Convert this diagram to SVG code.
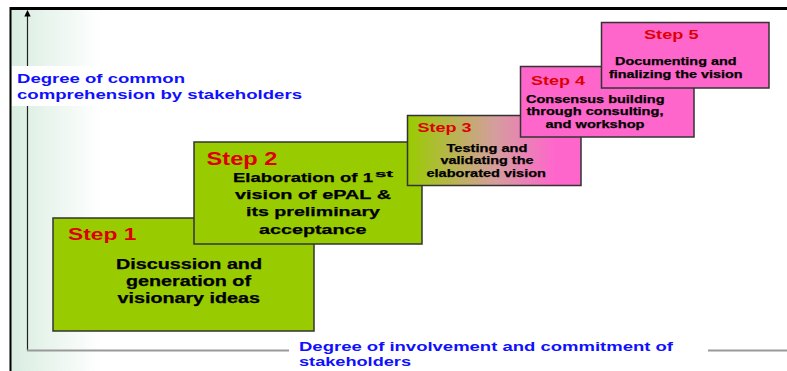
<svg xmlns="http://www.w3.org/2000/svg" width="787" height="371" viewBox="0 0 787 371">
<defs>
<linearGradient id="bg" x1="0" y1="0" x2="1" y2="0">
<stop offset="0" stop-color="#d9ede0"/>
<stop offset="1" stop-color="#ffffff"/>
</linearGradient>
<linearGradient id="g3" x1="0" y1="0" x2="1" y2="0">
<stop offset="0" stop-color="#99cc00"/>
<stop offset="0.5" stop-color="#d49e9c"/>
<stop offset="0.85" stop-color="#ff66cc"/>
<stop offset="1" stop-color="#ff66cc"/>
</linearGradient>
<style>
.box{stroke:#333;stroke-width:1.5}
.green{fill:#99cc00}
.pink{fill:#ff66cc}
text{font-family:"Liberation Sans",Arial,sans-serif;font-weight:bold}
.step{fill:#dd0000}
.body{fill:#000;stroke:#000;stroke-width:0.25}
.ax{fill:#1010ff;font-size:13px}
</style>
</defs>
<rect x="0" y="0" width="787" height="371" fill="#fff"/>
<rect x="11" y="8" width="90" height="363" fill="url(#bg)"/>
<line x1="11" y1="8.5" x2="787" y2="8.5" stroke="#000" stroke-width="3"/>
<line x1="10.5" y1="7" x2="10.5" y2="371" stroke="#000" stroke-width="2"/>

<g id="axes">
<line x1="27.5" y1="14" x2="27.5" y2="350.5" stroke="#222" stroke-width="1.2"/>
<polygon points="27.5,10 24.3,16.5 30.7,16.5" fill="#000"/>
<line x1="27" y1="350.5" x2="289" y2="350.5" stroke="#999" stroke-width="2"/>
<line x1="708" y1="350.5" x2="787" y2="350.5" stroke="#999" stroke-width="2"/>
</g>

<g id="ylabel">
<rect x="12" y="66" width="290" height="40" fill="#fff"/>
<text class="ax" x="17" y="83" textLength="168" lengthAdjust="spacingAndGlyphs">Degree of common</text>
<text class="ax" x="17" y="99" textLength="285" lengthAdjust="spacingAndGlyphs">comprehension by stakeholders</text>
</g>

<g id="xlabel">
<text class="ax" x="299" y="351" textLength="374" lengthAdjust="spacingAndGlyphs">Degree of involvement and commitment of</text>
<text class="ax" x="299" y="366" textLength="112" lengthAdjust="spacingAndGlyphs">stakeholders</text>
</g>

<g id="step1">
<rect class="box green" x="53" y="218" width="261" height="113"/>
<text class="step" x="68" y="239.5" font-size="16.5" textLength="68.5" lengthAdjust="spacingAndGlyphs">Step 1</text>
<text class="body" x="116" y="269" font-size="14" textLength="146" lengthAdjust="spacingAndGlyphs">Discussion and</text>
<text class="body" x="126" y="285.5" font-size="14" textLength="125" lengthAdjust="spacingAndGlyphs">generation of</text>
<text class="body" x="117.5" y="302.5" font-size="14" textLength="142.5" lengthAdjust="spacingAndGlyphs">visionary ideas</text>
</g>

<g id="step2">
<rect class="box green" x="194" y="142" width="228" height="102"/>
<text class="step" x="206.5" y="164.5" font-size="17.5" textLength="71" lengthAdjust="spacingAndGlyphs">Step 2</text>
<text class="body" x="233" y="181.5" font-size="13.5" textLength="140" lengthAdjust="spacingAndGlyphs">Elaboration of 1</text>
<text class="body" x="375" y="176.5" font-size="8.5" textLength="18" lengthAdjust="spacingAndGlyphs">st</text>
<text class="body" x="235" y="198.5" font-size="13.5" textLength="156" lengthAdjust="spacingAndGlyphs">vision of ePAL &amp;</text>
<text class="body" x="246" y="216" font-size="13.5" textLength="134" lengthAdjust="spacingAndGlyphs">its preliminary</text>
<text class="body" x="259" y="233.5" font-size="13.5" textLength="107.5" lengthAdjust="spacingAndGlyphs">acceptance</text>
</g>

<g id="step3">
<rect class="box" fill="url(#g3)" x="407.5" y="115.5" width="173.5" height="70"/>
<text class="step" x="417.5" y="131.5" font-size="13.5" textLength="54" lengthAdjust="spacingAndGlyphs">Step 3</text>
<text class="body" x="446.5" y="151.5" font-size="11" textLength="81" lengthAdjust="spacingAndGlyphs">Testing and</text>
<text class="body" x="440.5" y="164" font-size="11" textLength="93" lengthAdjust="spacingAndGlyphs">validating the</text>
<text class="body" x="426.5" y="176.5" font-size="11" textLength="119.5" lengthAdjust="spacingAndGlyphs">elaborated vision</text>
</g>

<g id="step4">
<rect class="box pink" x="520.5" y="66.5" width="173.5" height="70.5"/>
<text class="step" x="531" y="84.5" font-size="13.5" textLength="54" lengthAdjust="spacingAndGlyphs">Step 4</text>
<text class="body" x="526" y="102.5" font-size="11" textLength="138.5" lengthAdjust="spacingAndGlyphs">Consensus building</text>
<text class="body" x="526.5" y="115" font-size="11" textLength="137" lengthAdjust="spacingAndGlyphs">through consulting,</text>
<text class="body" x="545.5" y="127.5" font-size="11" textLength="99" lengthAdjust="spacingAndGlyphs">and workshop</text>
</g>

<g id="step5">
<rect class="box pink" x="601.5" y="22.5" width="167.5" height="65.5"/>
<text class="step" x="644" y="39" font-size="13.5" textLength="54.5" lengthAdjust="spacingAndGlyphs">Step 5</text>
<text class="body" x="615" y="65" font-size="11" textLength="121.5" lengthAdjust="spacingAndGlyphs">Documenting and</text>
<text class="body" x="609" y="77.5" font-size="11" textLength="133.5" lengthAdjust="spacingAndGlyphs">finalizing the vision</text>
</g>
</svg>
